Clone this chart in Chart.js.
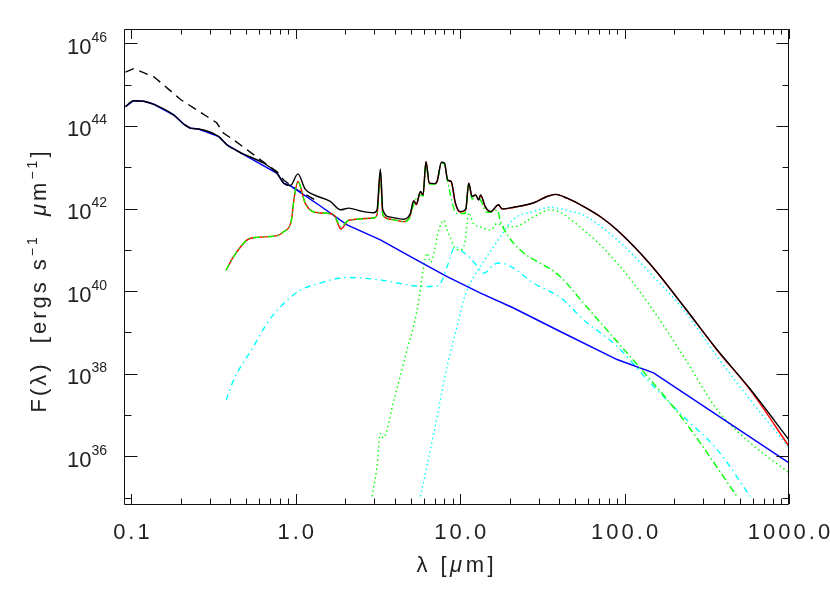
<!DOCTYPE html>
<html>
<head>
<meta charset="utf-8">
<title>SED</title>
<script src="https://cdn.jsdelivr.net/npm/chart.js@4.4.1/dist/chart.umd.min.js"></script>
<style>
  html, body { margin: 0; padding: 0; background: #fff; }
  #wrap { width: 830px; height: 593px; }
</style>
</head>
<body>
<div id="wrap"><canvas id="sedChart" width="830" height="593"></canvas></div>
<script>
'use strict';

// wavelengths in micron, fluxes in ergs/s/micron

// black solid
const totalLam = [0.092, 0.103, 0.119, 0.137, 0.181, 0.208, 0.229, 0.256, 0.340, 0.382, 0.440, 0.769, 0.843, 0.927,
  1.03, 1.14, 1.29, 1.62, 1.87, 2.10, 2.47, 2.98, 3.12, 3.27, 3.38, 3.76, 4.53, 4.98, 5.21, 5.41, 5.73, 5.94,
  6.19, 6.49, 6.97, 7.23, 7.69, 8.02, 8.39, 8.81, 9.35, 10.0, 10.8, 11.27, 11.8, 12.4, 12.97, 13.3, 14.2, 15.3,
  17.1, 18.0, 21.1, 28.0, 33.7, 38.0, 45.0, 56.4, 71.3, 90.0, 143.6, 228.6, 365.6, 582, 1000];
const totalFlux = [2.92e44, 4.08e44, 3.95e44, 3.34e44, 1.84e44, 1.11e44, 8.8e43, 8.4e43, 5.5e43, 3.46e43, 2.48e43, 7.1e42, 4.1e42, 3.6e42,
  6.9e42, 2.95e42, 2.14e42, 1.48e42, 9.3e41, 1.02e42, 8.7e41, 7.9e41, 9.3e41, 8.9e42, 9.3e41, 6.2e41, 5.5e41, 7.7e41, 1.55e42, 1.29e42, 2.57e42, 2.14e42,
  1.36e43, 4.1e42, 4.0e42, 4.5e42, 1.32e43, 1.26e43, 4.9e42, 4.5e42, 1.35e42, 8.4e41, 9.5e41, 4.1e42, 1.95e42, 2.14e42, 1.62e42, 2.14e42, 1.11e42, 8.4e41,
  1.23e42, 9.8e41, 1.07e42, 1.38e42, 1.95e42, 2.2e42, 1.75e42, 1.11e42, 6.3e41, 3.0e41, 4.4e40, 4.3e39, 3.8e38, 4.2e37, 2.5e36];

// black dashed
const dashedLam = [0.092, 0.103, 0.137, 0.2, 0.33, 0.364, 0.419, 0.67, 0.77, 0.843, 1.0, 1.3];
const dashedFlux = [2.0e45, 2.43e45, 1.55e45, 4.3e44, 1.19e44, 6.6e43, 4.6e43, 1.14e43, 7.8e42, 4.9e42, 2.95e42, 1.65e42];

// blue solid
const blueLam = [0.092, 0.103, 0.119, 0.137, 0.181, 0.208, 0.229, 0.256, 0.340, 0.382, 0.440, 0.769, 0.843, 0.927,
  1.41, 2.05, 3.27, 5.21, 8.32, 13.3, 21.1, 40.6, 90.0, 150, 1000];
const blueFlux = [2.92e44, 4.08e44, 3.95e44, 3.34e44, 1.84e44, 1.11e44, 8.8e43, 8.4e43, 5.5e43, 3.46e43, 2.48e43, 7.1e42, 4.1e42, 3.55e42,
  1.15e42, 4.0e41, 1.74e41, 6.2e40, 2.24e40, 8.9e39, 3.9e39, 1.05e39, 2.2e38, 1.05e38, 6.9e35];

// red solid
const redLam = [0.376, 0.419, 0.506, 0.582, 0.769, 0.843, 0.936, 0.98, 1.03, 1.14, 1.26, 1.41, 1.70, 1.88, 2.10, 2.98, 3.12, 3.27, 3.38, 3.76, 4.53,
  4.98, 5.21, 5.41, 5.73, 5.94, 6.19, 6.49, 6.97, 7.23, 7.69, 8.02, 8.39, 8.81, 9.35, 10.0, 10.8, 11.27, 11.8, 12.4, 12.97, 13.3, 14.2, 15.3,
  17.1, 18.0, 21.1, 28.0, 33.7, 38.0, 45.0, 56.4, 71.3, 90.0, 143.6, 228.6, 365.6, 582, 1000];
const redFlux = [3.2e40, 6.9e40, 1.74e41, 2.0e41, 2.2e41, 2.75e41, 4.8e41, 1.95e42, 4.5e42, 1.35e42, 8.5e41, 7.8e41, 7.1e41, 3.2e41, 5.2e41, 5.9e41, 7.1e41, 8.0e42, 7.1e41, 5.5e41, 4.8e41,
  7.0e41, 1.49e42, 1.23e42, 2.5e42, 2.08e42, 1.35e43, 4.05e42, 3.95e42, 4.45e42, 1.31e43, 1.25e43, 4.85e42, 4.45e42, 1.32e42, 8.2e41, 9.3e41, 4.1e42, 1.94e42, 2.13e42, 1.61e42, 2.13e42, 1.10e42, 8.3e41,
  1.22e42, 9.7e41, 1.06e42, 1.37e42, 1.95e42, 2.2e42, 1.75e42, 1.11e42, 6.3e41, 3.0e41, 4.4e40, 4.3e39, 3.7e38, 4.0e37, 1.74e36];

// green dash-dot
const greenDashLam = [0.376, 0.419, 0.506, 0.582, 0.769, 0.843, 0.936, 0.98, 1.03, 1.14, 1.26, 1.41, 1.70, 1.88, 2.10, 2.98, 3.12, 3.27, 3.38, 3.76, 4.53,
  4.98, 5.21, 5.73, 5.94, 6.19, 6.49, 6.97, 7.23, 7.69, 8.02, 8.39, 9.14, 9.6, 10.7, 11.27, 11.8, 12.4, 13.3, 14.5, 16.0, 16.8, 17.6,
  21.1, 40.6, 56.4, 90.0, 143.6, 228.6, 483];
const greenDashFlux = [3.2e40, 6.9e40, 1.74e41, 2.0e41, 2.2e41, 2.75e41, 4.8e41, 1.95e42, 4.5e42, 1.35e42, 8.5e41, 7.8e41, 7.1e41, 3.6e41, 5.2e41, 5.9e41, 7.1e41, 7.1e42, 7.1e41, 5.5e41, 4.8e41,
  6.5e41, 1.29e42, 2.14e42, 2.0e42, 1.2e43, 3.9e42, 3.9e42, 4.3e42, 1.26e43, 1.2e43, 4.5e42, 1.02e42, 7.6e41, 7.6e41, 3.8e42, 1.7e42, 2.0e42, 1.6e42, 8.1e41, 8.5e41, 9.2e41, 4.8e41,
  1.45e41, 2.24e40, 5.0e39, 6.0e38, 7.1e37, 7.6e36, 1.07e35];

// cyan dash-dot
const cyanDashLam = [0.377, 0.419, 0.554, 0.668, 0.843, 1.07, 1.29, 2.05, 3.27, 5.21, 6.9, 7.59, 8.32, 9.35, 10.0, 11.5, 13.3, 13.9, 16.0, 17.6,
  21.1, 28.0, 40.6, 56.4, 90.0, 143.6, 228.6, 365.6, 582];
const cyanDashFlux = [2.3e37, 7.1e37, 4.6e38, 1.66e39, 5.0e39, 1.07e40, 1.41e40, 2.14e40, 1.86e40, 1.35e40, 1.29e40, 1.55e40, 3.9e40, 1.2e41, 1.0e41, 6.3e40, 3.2e40, 2.7e40, 4.4e40, 4.8e40,
  3.6e40, 1.55e40, 7.0e39, 2.0e39, 4.6e38, 5.9e37, 9.1e36, 1.45e36, 1.07e35];

// green dotted
const greenDotLam = [2.91, 3.12, 3.27, 3.40, 3.95, 4.75, 5.47, 6.0, 6.28, 6.6, 7.41, 7.94, 8.32, 8.71, 9.14, 10.0, 10.7, 11.0, 11.3, 12.0,
  13.3, 15.3, 16.8, 18.4, 21.1, 28.0, 35.4, 56.4, 90.0, 143.6, 228.6, 365.6, 582, 1000];
const greenDotFlux = [1.07e35, 5.8e35, 3.6e36, 2.8e36, 2.3e37, 3.8e38, 3.5e39, 4.0e40, 8.3e40, 5.0e40, 3.0e41, 5.2e41, 3.0e41, 2.0e41, 1.2e41, 1.0e41, 1.6e41, 4.4e41, 8.0e41, 4.4e41,
  3.6e41, 3.0e41, 4.4e41, 3.6e41, 3.6e41, 6.3e41, 9.3e41, 3.0e41, 4.8e40, 4.3e39, 2.6e38, 1.35e37, 2.1e36, 4.0e35];

// cyan dotted
const cyanDotLam = [5.73, 6.28, 7.24, 8.32, 9.57, 10.5, 11.5, 13.3, 16.8, 21.1, 28.0, 35.4, 45.0, 56.4, 90.0, 143.6, 228.6, 365.6, 582, 1000];
const cyanDotFlux = [1.07e35, 5.8e35, 9.3e36, 1.5e38, 1.38e39, 6.2e39, 1.55e40, 4.0e40, 1.6e41, 5.5e41, 8.5e41, 1.07e42, 8.9e41, 6.9e41, 1.74e41, 2.7e40, 3.5e39, 2.6e38, 2.3e37, 1.6e36];

// axis ranges and tick labels
const xRange = [0.0914, 1000];
const yRange = [7.0e34, 2.22e46];
const xTickValues = [0.1, 1, 10, 100, 1000];
const xTickLabels = ['0.1', '1.0', '10.0', '100.0', '1000.0'];
const yTickExps = [36, 38, 40, 42, 44, 46];

const textColor = '#222';
const fontName = '"Liberation Sans", Arial, sans-serif';

function toPoints(lam, flux) {
  return lam.map((l, i) => ({ x: l, y: flux[i] }));
}

// smooth=false keeps straight segments (power law pieces)
function makeLine(lam, flux, color, dash, width, smooth) {
  return {
    data: toPoints(lam, flux),
    borderColor: color,
    borderWidth: width || 1.4,
    borderDash: dash || [],
    pointRadius: 0,
    fill: false,
    tension: 0,
    cubicInterpolationMode: smooth === false ? 'default' : 'monotone'
  };
}

// write a run of text pieces left to right, returns the total width
function drawPieces(ctx, pieces, x, y, spacing) {
  let cx = x;
  pieces.forEach(p => {
    ctx.font = p.font;
    ctx.letterSpacing = spacing;
    ctx.fillText(p.text, cx, y + (p.dy || 0));
    cx += ctx.measureText(p.text).width;
  });
  return cx - x;
}

function measurePieces(ctx, pieces, spacing) {
  let w = 0;
  pieces.forEach(p => {
    ctx.font = p.font;
    ctx.letterSpacing = spacing;
    w += ctx.measureText(p.text).width;
  });
  return w;
}

// frame with inward ticks on all four sides, plus the labels
const frameTicks = {
  id: 'frameTicks',
  afterDraw(chart) {
    const { ctx, chartArea: a } = chart;
    const xs = chart.scales.x;
    const ys = chart.scales.y;
    ctx.save();
    ctx.strokeStyle = '#111';
    ctx.lineWidth = 1;
    ctx.beginPath();
    ctx.rect(a.left - 0.5, a.top + 0.5, a.right - a.left, a.bottom - a.top);
    ctx.stroke();

    ctx.beginPath();
    // x ticks
    for (let e = -2; e <= 3; e++) {
      for (let m = 1; m <= 9; m++) {
        let v = m * Math.pow(10, e);
        if (v < xRange[0] || v > xRange[1] * 1.0001) continue;
        let px = Math.round(xs.getPixelForValue(v)) + 0.5;
        let len = m === 1 ? 10 : 5.5;
        ctx.moveTo(px, a.bottom);
        ctx.lineTo(px, a.bottom - len);
        ctx.moveTo(px, a.top);
        ctx.lineTo(px, a.top + len);
      }
    }
    // y ticks, long at labelled decades
    for (let e = 35; e <= 46; e++) {
      let py = Math.round(ys.getPixelForValue(Math.pow(10, e))) + 0.5;
      let len = e % 2 === 0 ? 12.5 : 6.5;
      ctx.moveTo(a.left, py);
      ctx.lineTo(a.left + len, py);
      ctx.moveTo(a.right, py);
      ctx.lineTo(a.right - len, py);
    }
    ctx.stroke();

    ctx.fillStyle = textColor;
    ctx.textBaseline = 'alphabetic';

    // x tick labels
    ctx.textAlign = 'left';
    xTickValues.forEach((v, i) => {
      let px = xs.getPixelForValue(v);
      let pieces = [{ text: xTickLabels[i], font: '22px ' + fontName }];
      let w = measurePieces(ctx, pieces, '3px') - 3;
      drawPieces(ctx, pieces, px - w / 2, 539, '3px');
    });

    // y tick labels as 10 with a raised exponent
    yTickExps.forEach(e => {
      let py = ys.getPixelForValue(Math.pow(10, e));
      let pieces = [
        { text: '10', font: '22px ' + fontName },
        { text: String(e), font: '14px ' + fontName, dy: -12 }
      ];
      let w = measurePieces(ctx, pieces, '0px');
      drawPieces(ctx, pieces, 107 - w, py + 10.5, '0px');
    });

    // x title
    let xTitle = [
      { text: 'λ [', font: '22px ' + fontName },
      { text: 'μ', font: 'italic 22px ' + fontName },
      { text: 'm]', font: '22px ' + fontName }
    ];
    let xw = measurePieces(ctx, xTitle, '3.5px') - 3.5;
    drawPieces(ctx, xTitle, 455 - xw / 2, 572, '3.5px');

    // y title, rotated
    let yTitle = [
      { text: 'F(λ)  [ergs s', font: '22px ' + fontName },
      { text: '−1', font: '14px ' + fontName, dy: -9 },
      { text: '  ', font: '22px ' + fontName },
      { text: 'μ', font: 'italic 22px ' + fontName },
      { text: 'm', font: '22px ' + fontName },
      { text: '−1', font: '14px ' + fontName, dy: -9 },
      { text: ']', font: '22px ' + fontName }
    ];
    ctx.translate(46, 282);
    ctx.rotate(-Math.PI / 2);
    let yw = measurePieces(ctx, yTitle, '3px') - 3;
    drawPieces(ctx, yTitle, -yw / 2, 0, '3px');
    ctx.restore();
  }
};

const ctx = document.getElementById('sedChart');
const sedChart = new Chart(ctx, {
  type: 'line',
  data: {
    datasets: [
      makeLine(totalLam, totalFlux, '#000000'),
      makeLine(greenDashLam, greenDashFlux, '#00ff00', [7, 3, 1.5, 3]),
      makeLine(redLam, redFlux, '#ff0000'),
      makeLine(blueLam, blueFlux, '#0000ff', [], 1.5, false),
      makeLine(dashedLam, dashedFlux, '#000000', [9, 6], 1.4, false),
      makeLine(cyanDotLam, cyanDotFlux, '#00ffff', [1.5, 3]),
      makeLine(greenDotLam, greenDotFlux, '#00ff00', [1.5, 3]),
      makeLine(cyanDashLam, cyanDashFlux, '#00ffff', [6, 4, 1.5, 4])
    ]
  },
  options: {
    responsive: false,
    animation: false,
    events: [],
    layout: { padding: { top: 29, right: 41, left: 0, bottom: 0 } },
    plugins: { legend: { display: false }, tooltip: { enabled: false } },
    scales: {
      x: {
        type: 'logarithmic',
        min: xRange[0],
        max: xRange[1],
        ticks: { display: false },
        grid: { display: false },
        border: { display: false },
        afterFit: scale => { scale.height = 89; }
      },
      y: {
        type: 'logarithmic',
        min: yRange[0],
        max: yRange[1],
        ticks: { display: false },
        grid: { display: false },
        border: { display: false },
        afterFit: scale => { scale.width = 125; }
      }
    }
  },
  plugins: [frameTicks]
});
</script>
</body>
</html>
